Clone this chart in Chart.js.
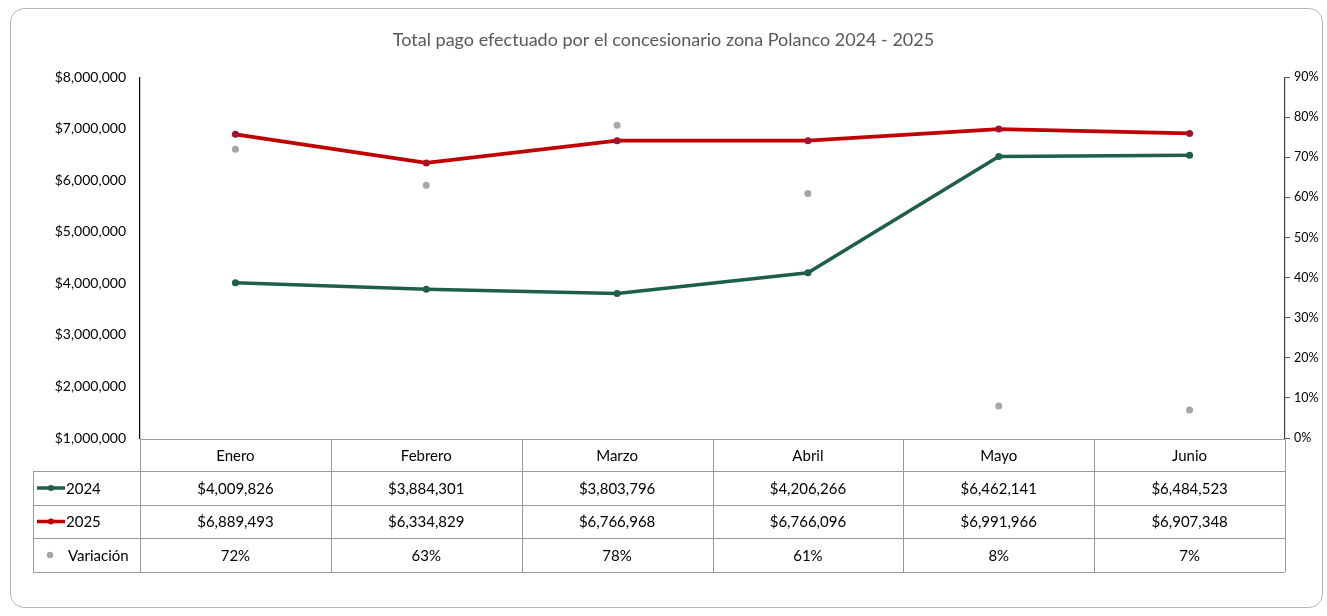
<!DOCTYPE html>
<html>
<head>
<meta charset="utf-8">
<script src="https://cdn.jsdelivr.net/npm/chart.js@4.4.1/dist/chart.umd.min.js"></script>
<style>
    body { margin: 0; background: #fff; }
    #card {
        position: absolute; left: 10px; top: 8px; width: 1311px; height: 598px;
        border: 1.5px solid #b8b8b8; border-radius: 14px;
    }
    #chart { position: absolute; left: 0; top: 0; }
</style>
</head>
<body>
<div id="card"></div>
<canvas id="chart" width="1327" height="616"></canvas>
<script>
// Data
const meses = ['Enero', 'Febrero', 'Marzo', 'Abril', 'Mayo', 'Junio'];
const pagos2024 = [4009826, 3884301, 3803796, 4206266, 6462141, 6484523];
const pagos2025 = [6889493, 6334829, 6766968, 6766096, 6991966, 6907348];
const variacion = [0.72, 0.63, 0.78, 0.61, 0.08, 0.07];
const montoTicks = [1000000, 2000000, 3000000, 4000000, 5000000, 6000000, 7000000, 8000000];
const pctTicks = [0, 0.1, 0.2, 0.3, 0.4, 0.5, 0.6, 0.7, 0.8, 0.9];

const FONT = 'Lato, "Open Sans", sans-serif';
const VERDE = '#1f5e4b';
const ROJO = '#c00000';
const GRIS = '#a6a6a6';

const money = v => '$' + v.toLocaleString('en-US');
const pct = v => Math.round(v * 100) + '%';

// Draws the Excel-like data table under the plot area
const dataTable = {
    id: 'dataTable',
    afterDraw(chart) {
        const { ctx, chartArea, scales } = chart;
        const x = scales.x;
        const colW = (chartArea.right - chartArea.left) / meses.length;
        const keyLeft = 33;
        const rowH = [32, 34, 33, 34];
        const top = chartArea.bottom + 1;
        const ys = [top];
        rowH.forEach(h => ys.push(ys[ys.length - 1] + h));

        ctx.save();
        ctx.strokeStyle = '#9a9a9a';
        ctx.lineWidth = 1;
        ctx.beginPath();
        // horizontal lines
        ctx.moveTo(chartArea.left, ys[0] + 0.5); ctx.lineTo(chartArea.right, ys[0] + 0.5);
        for (let r = 1; r < ys.length; r++) {
            ctx.moveTo(keyLeft, ys[r] + 0.5); ctx.lineTo(chartArea.right, ys[r] + 0.5);
        }
        // vertical lines
        ctx.moveTo(keyLeft + 0.5, ys[1]); ctx.lineTo(keyLeft + 0.5, ys[4]);
        for (let i = 0; i <= meses.length; i++) {
            const px = Math.round(chartArea.left + i * colW) + 0.5;
            ctx.moveTo(px, ys[0]); ctx.lineTo(px, ys[4]);
        }
        ctx.stroke();

        ctx.fillStyle = '#000';
        ctx.font = '15px ' + FONT;
        ctx.textAlign = 'center';
        ctx.textBaseline = 'middle';
        const rows = [
            meses,
            pagos2024.map(money),
            pagos2025.map(money),
            variacion.map(pct)
        ];
        rows.forEach((vals, r) => {
            const cy = (ys[r] + ys[r + 1]) / 2 + 1;
            vals.forEach((t, i) => ctx.fillText(t, x.getPixelForValue(i), cy));
        });

        // legend keys
        const keys = [
            { label: '2024', color: VERDE, line: true },
            { label: '2025', color: ROJO, line: true },
            { label: 'Variación', color: GRIS, line: false }
        ];
        keys.forEach((k, i) => {
            const cy = (ys[i + 1] + ys[i + 2]) / 2;
            ctx.fillStyle = k.color;
            ctx.strokeStyle = k.color;
            if (k.line) {
                ctx.lineWidth = 3.5;
                ctx.beginPath(); ctx.moveTo(37, cy); ctx.lineTo(65, cy); ctx.stroke();
                ctx.beginPath(); ctx.arc(51, cy, 3, 0, Math.PI * 2); ctx.fill();
                ctx.fillStyle = '#000';
                ctx.textAlign = 'left';
                ctx.fillText(k.label, 66, cy + 1);
            } else {
                ctx.beginPath(); ctx.arc(50, cy, 3.2, 0, Math.PI * 2); ctx.fill();
                ctx.fillStyle = '#000';
                ctx.textAlign = 'left';
                ctx.fillText(k.label, 68, cy + 1);
            }
        });
        ctx.restore();
    }
};

new Chart(document.getElementById('chart'), {
    type: 'line',
    data: {
        labels: meses,
        datasets: [
            {
                label: '2024',
                data: pagos2024,
                borderColor: VERDE,
                backgroundColor: VERDE,
                borderWidth: 3.5,
                pointRadius: 3.5,
                pointBorderWidth: 0,
                yAxisID: 'y',
                order: 2
            },
            {
                label: '2025',
                data: pagos2025,
                borderColor: ROJO,
                backgroundColor: '#a3102a',
                borderWidth: 3.8,
                pointRadius: 3.5,
                pointBorderWidth: 0,
                yAxisID: 'y',
                order: 1
            },
            {
                label: 'Variación',
                data: variacion,
                showLine: false,
                borderColor: GRIS,
                backgroundColor: GRIS,
                pointRadius: 3.5,
                pointBorderWidth: 0,
                yAxisID: 'y1',
                order: 3
            }
        ]
    },
    options: {
        responsive: false,
        animation: false,
        layout: { padding: { left: 0, right: 0, top: 0, bottom: 178 } },
        plugins: {
            legend: { display: false },
            tooltip: { enabled: false },
            title: {
                display: true,
                text: 'Total pago efectuado por el concesionario zona Polanco 2024 - 2025',
                color: '#595959',
                font: { family: FONT, size: 18, weight: 'normal' },
                padding: { top: 29, bottom: 26.5 }
            }
        },
        scales: {
            x: {
                type: 'category',
                offset: true,
                display: false
            },
            y: {
                position: 'left',
                min: 1000000,
                max: 8000000,
                afterFit: s => { s.width = 140; },
                afterBuildTicks: s => { s.ticks = montoTicks.map(v => ({ value: v })); },
                grid: { display: false, drawTicks: false },
                border: { display: true, color: '#000', width: 1.2 },
                ticks: {
                    color: '#000',
                    padding: 14,
                    font: { family: FONT, size: 14 },
                    callback: v => money(v)
                }
            },
            y1: {
                position: 'right',
                min: 0,
                max: 0.9,
                afterFit: s => { s.width = 42; },
                afterBuildTicks: s => { s.ticks = pctTicks.map(v => ({ value: v })); },
                grid: { drawOnChartArea: false, drawTicks: true, tickLength: 5, color: '#595959' },
                border: { display: true, color: '#404040', width: 1.2 },
                ticks: {
                    color: '#000',
                    padding: 4,
                    font: { family: FONT, size: 12.5 },
                    callback: v => pct(v)
                }
            }
        }
    },
    plugins: [dataTable]
});
</script>
</body>
</html>
